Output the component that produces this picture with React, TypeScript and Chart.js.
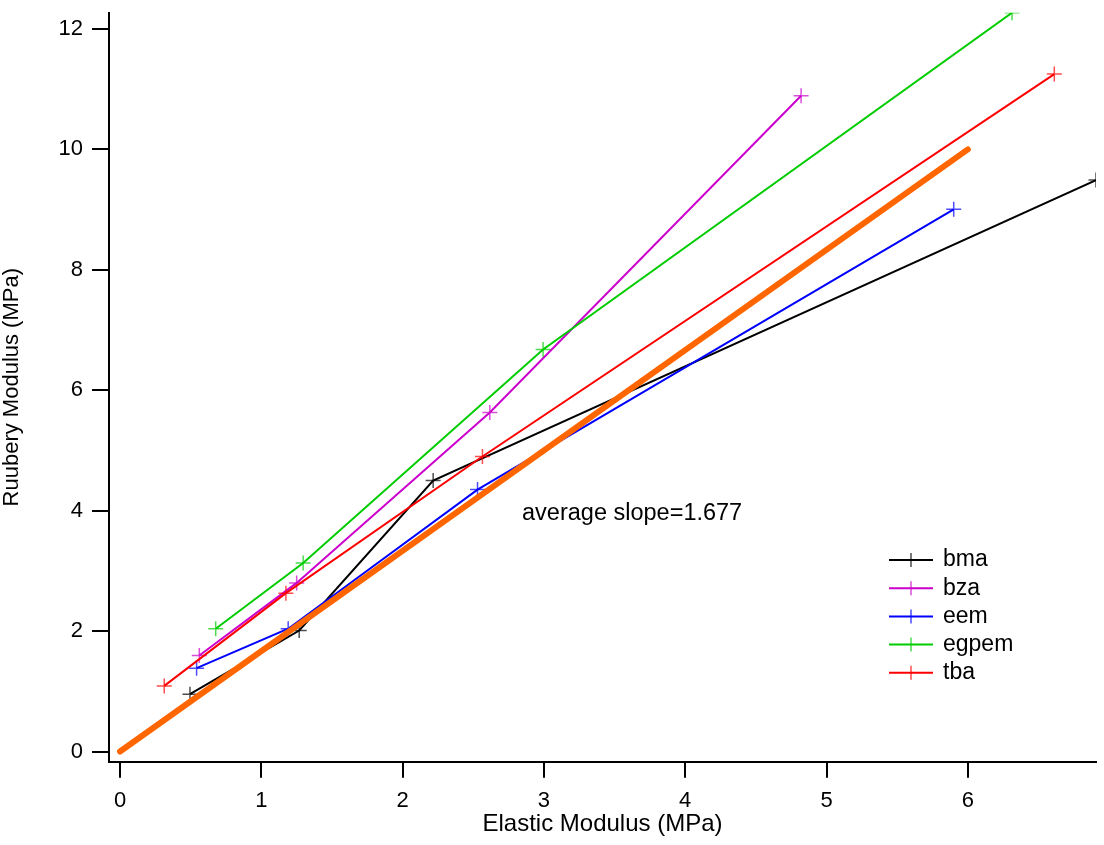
import React, { useEffect, useRef } from "react";
import { Chart, registerables } from "chart.js";

Chart.register(...registerables);

// ---- data ----
const seriesNames = ["bma", "bza", "eem", "egpem", "tba"];
const seriesColors = ["#000000", "#CC00CC", "#0000FF", "#00CC00", "#FF0000"];
const markerColors = ["rgba(0,0,0,0.7)", "rgba(204,0,204,0.7)", "rgba(0,0,255,0.7)", "rgba(0,204,0,0.7)", "rgba(255,0,0,0.7)"];

const bmaX = [0.495, 1.268, 2.216, 6.907];
const bmaY = [0.952, 2.01, 4.5, 9.49];
const bzaX = [0.561, 1.25, 2.617, 4.82];
const bzaY = [1.595, 2.8, 5.63, 10.89];
const eemX = [0.542, 1.19, 2.53, 5.9];
const eemY = [1.385, 2.04, 4.35, 9.005];
const egpemX = [0.677, 1.296, 2.994, 6.313];
const egpemY = [2.04, 3.13, 6.676, 12.27];
const tbaX = [0.313, 1.174, 2.565, 6.612];
const tbaY = [1.09, 2.63, 4.9, 11.25];

const fitX = [0, 6];
const fitY = [0, 10];
const fitLabel = "average slope=1.677";
const fitLabelPos = [2.845, 3.85];

const xTickValues = [0, 1, 2, 3, 4, 5, 6];
const yTickValues = [0, 2, 4, 6, 8, 10, 12];
const xRange = [-0.078, 6.907];
const yRange = [-0.169, 12.27];

const xTitle = "Elastic Modulus (MPa)";
const yTitle = "Ruubery Modulus (MPa)";

const seriesX = [bmaX, bzaX, eemX, egpemX, tbaX];
const seriesY = [bmaY, bzaY, eemY, egpemY, tbaY];

const FONT = "'Liberation Sans', Arial, Helvetica, sans-serif";

const toPoints = (xs: number[], ys: number[]) => xs.map((x, i) => ({ x, y: ys[i] }));

const legendPlugin = {
  id: "igorLegend",
  afterDraw(chart: any) {
    const ctx = chart.ctx as CanvasRenderingContext2D;
    const x0 = 889;
    const y0 = 560;
    const step = 28.2;
    ctx.save();
    chart.data.datasets.forEach((ds: any) => {
      if (!ds.inLegend) return;
      const y = y0 + ds.legendIndex * step;
      ctx.strokeStyle = ds.borderColor;
      ctx.lineWidth = 2;
      ctx.beginPath();
      ctx.moveTo(x0, y);
      ctx.lineTo(x0 + 44, y);
      ctx.stroke();
      ctx.strokeStyle = ds.pointBorderColor;
      ctx.lineWidth = 1.5;
      ctx.beginPath();
      ctx.moveTo(x0 + 22, y - 7);
      ctx.lineTo(x0 + 22, y + 7);
      ctx.stroke();
      ctx.fillStyle = "#000";
      ctx.font = `23px ${FONT}`;
      ctx.textBaseline = "middle";
      ctx.textAlign = "left";
      ctx.fillText(ds.label, x0 + 54, y);
    });
    // annotation
    const xs = chart.scales.x;
    const ys = chart.scales.y;
    ctx.fillStyle = "#000";
    ctx.font = `23.5px ${FONT}`;
    ctx.textBaseline = "alphabetic";
    ctx.textAlign = "left";
    ctx.fillText(fitLabel, xs.getPixelForValue(fitLabelPos[0]), ys.getPixelForValue(fitLabelPos[1]));
    ctx.restore();
  },
};

export default function App() {
  const ref = useRef<HTMLCanvasElement | null>(null);

  useEffect(() => {
    if (!ref.current) return;
    const datasets: any[] = seriesNames.map((name, i) => ({
      label: name,
      data: toPoints(seriesX[i], seriesY[i]),
      showLine: true,
      borderColor: seriesColors[i],
      borderWidth: 2,
      pointStyle: "cross",
      pointRadius: 7.5,
      pointBorderWidth: 1.5,
      pointBorderColor: markerColors[i],
      pointBackgroundColor: markerColors[i],
      order: 5 - i,
      inLegend: true,
      legendIndex: i,
    }));
    datasets.push({
      label: "fit",
      data: toPoints(fitX, fitY),
      showLine: true,
      borderColor: "#FF6600",
      borderWidth: 6,
      borderCapStyle: "round",
      pointRadius: 0,
      order: 0,
      inLegend: false,
    });

    const tickFont = { family: FONT, size: 22 };
    const chart = new Chart(ref.current, {
      type: "scatter",
      data: { datasets },
      options: {
        animation: false,
        responsive: false,
        devicePixelRatio: 1,
        layout: { autoPadding: false, padding: { top: 12.7, right: 8, bottom: 0, left: 0 } },
        plugins: { legend: { display: false }, tooltip: { enabled: false } },
        scales: {
          x: {
            type: "linear",
            min: xRange[0],
            max: xRange[1],
            afterBuildTicks: (s: any) => {
              s.ticks = xTickValues.map((v) => ({ value: v }));
            },
            afterFit: (s: any) => {
              s.height = 845 - 761.7;
              s.paddingLeft = 0;
              s.paddingRight = 0;
            },
            border: { display: true, color: "#000", width: 2 },
            grid: { display: true, drawOnChartArea: false, drawTicks: true, tickLength: 16, color: "#000", lineWidth: 2 },
            ticks: { color: "#000", font: tickFont, padding: 10, maxRotation: 0 },
            title: {
              display: true,
              text: xTitle,
              color: "#000",
              font: { family: FONT, size: 24, lineHeight: 1 },
              padding: { top: 0, bottom: 9 },
            },
          },
          y: {
            type: "linear",
            min: yRange[0],
            max: yRange[1],
            afterBuildTicks: (s: any) => {
              s.ticks = yTickValues.map((v) => ({ value: v }));
            },
            afterFit: (s: any) => {
              s.width = 109;
              s.paddingTop = 0;
              s.paddingBottom = 0;
            },
            border: { display: true, color: "#000", width: 2 },
            grid: { display: true, drawOnChartArea: false, drawTicks: true, tickLength: 17, color: "#000", lineWidth: 2 },
            ticks: { color: "#000", font: tickFont, padding: 9 },
            title: {
              display: true,
              text: yTitle,
              color: "#000",
              font: { family: FONT, size: 22, lineHeight: 1 },
              padding: { top: 1, bottom: 0 },
            },
          },
        },
      },
      plugins: [legendPlugin],
    } as any);
    return () => chart.destroy();
  }, []);

  return (
    <div style={{ position: "fixed", left: 0, top: 0, width: 1104, height: 845, background: "#fff" }}>
      <canvas ref={ref} width={1104} height={845} style={{ display: "block", width: 1104, height: 845 }} />
    </div>
  );
}
